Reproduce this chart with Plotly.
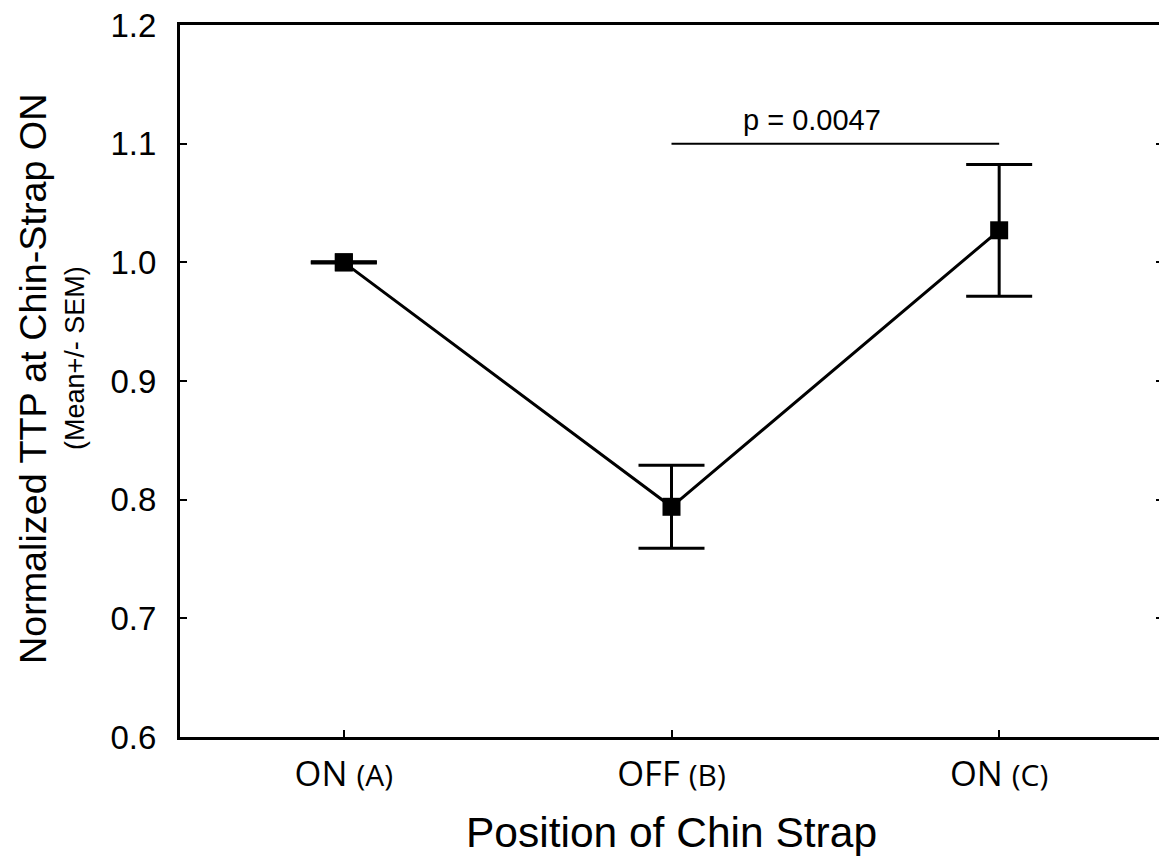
import plotly.graph_objects as go

categories = ["ON (A)", "OFF (B)", "ON (C)"]
tick_main = ["ON", "OFF", "ON"]
tick_sub = ["(A)", "(B)", "(C)"]
means = [1.000, 0.794, 1.027]
sem = [0.0, 0.035, 0.0555]
y_ticks = [0.6, 0.7, 0.8, 0.9, 1.0, 1.1, 1.2]
p_label = "p = 0.0047"
p_level = 1.1

xpos = list(range(len(categories)))
ticktext = [f"{m} <span style='font-size:30px'>{s}</span>" for m, s in zip(tick_main, tick_sub)]

fig = go.Figure()
fig.add_trace(go.Scatter(
    x=xpos, y=means, mode="lines+markers",
    line=dict(color="black", width=3),
    marker=dict(symbol="square", size=18, color="black"),
    error_y=dict(type="data", array=sem, visible=True, color="black", thickness=3, width=33),
    showlegend=False,
))
fig.add_trace(go.Scatter(
    x=[xpos[0]], y=[means[0]], mode="markers",
    marker=dict(symbol="square", size=18, color="black"),
    error_y=dict(type="data", array=[0.0005], visible=True, color="black", thickness=3, width=33),
    showlegend=False,
))

fig.add_shape(type="line", x0=xpos[1], x1=xpos[2], y0=p_level, y1=p_level,
              xref="x", yref="y", line=dict(color="black", width=2))
fig.add_annotation(x=1.43, y=p_level, xref="x", yref="y", text=p_label, showarrow=False,
                   yanchor="bottom", yshift=6,
                   font=dict(family="Liberation Sans, Arial", size=29, color="black"))

fig.add_annotation(x=0, y=0.5, xref="paper", yref="paper", xanchor="center", yanchor="middle",
                   xshift=-147, yshift=2, textangle=-90, showarrow=False,
                   text="Normalized TTP at Chin-Strap ON",
                   font=dict(family="Liberation Sans, Arial", size=37.7, color="black"))
fig.add_annotation(x=0, y=0.5, xref="paper", yref="paper", xanchor="center", yanchor="middle",
                   xshift=-105, yshift=23, textangle=-90, showarrow=False,
                   text="(Mean+/- SEM)",
                   font=dict(family="Liberation Sans, Arial", size=27, color="black"))

fig.update_layout(
    width=1159, height=853,
    margin=dict(l=172, r=4, t=17, b=124),
    paper_bgcolor="white", plot_bgcolor="white",
    xaxis=dict(
        range=[-0.5, 2.5], tickvals=xpos, ticktext=ticktext,
        ticks="inside", ticklen=7, tickwidth=2, tickcolor="black",
        showline=True, linecolor="black", linewidth=3, mirror=True,
        showgrid=False, zeroline=False, ticklabelstandoff=5,
        ticklabeloverflow="allow", automargin=False,
        tickfont=dict(family="Open Sans", size=34.5, color="black"),
        title=dict(text="Position of Chin Strap", standoff=22,
                   font=dict(family="Liberation Sans, Arial", size=42.5, color="black")),
    ),
    yaxis=dict(
        range=[0.6, 1.2], tickvals=y_ticks, ticktext=[f"{v:.1f}" for v in y_ticks],
        ticks="inside", ticklen=7, tickwidth=2, tickcolor="black",
        showline=True, linecolor="black", linewidth=3, mirror="ticks",
        showgrid=False, zeroline=False, ticklabelstandoff=14,
        ticklabeloverflow="allow", automargin=False,
        tickfont=dict(family="Liberation Sans, Arial", size=33, color="black"),
    ),
)

fig.write_html("out.html")
